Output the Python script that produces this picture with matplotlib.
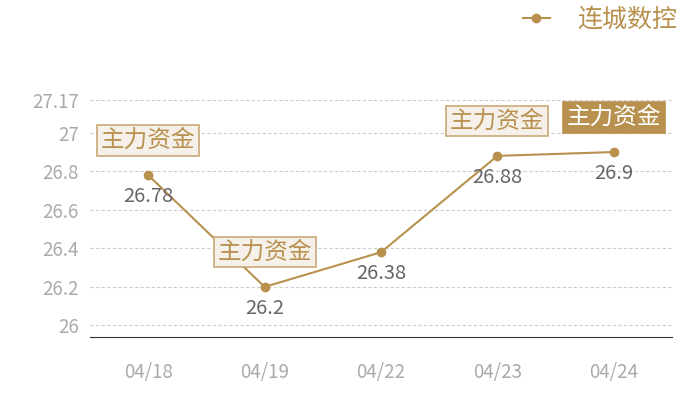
import matplotlib
matplotlib.use('Agg')
import matplotlib.pyplot as plt

plt.rcParams['font.family'] = ['Noto Sans CJK SC', 'DejaVu Sans']

dates = ['04/18', '04/19', '04/22', '04/23', '04/24']
prices = [26.78, 26.2, 26.38, 26.88, 26.9]
mark_idx = [0, 1, 3, 4]  # points carrying a 主力资金 tag
mark_text = '主力资金'
series_name = '连城数控'
yticks = [26, 26.2, 26.4, 26.6, 26.8, 27, 27.17]
ytick_labels = ['26', '26.2', '26.4', '26.6', '26.8', '27', '27.17']

gold = '#b8914f'

fig = plt.figure(figsize=(7, 4), dpi=100)
ax = fig.add_axes([0.1286, 0.1575, 0.8314, 0.5925])

x = list(range(len(dates)))
ax.plot(x, prices, color=gold, lw=1.5, marker='o', ms=6, label=series_name, zorder=3)

for i, v in zip(x, prices):
    ax.annotate(f'{v:g}', (i, v), xytext=(0, -15.5), textcoords='offset points',
                ha='center', va='center', fontsize=14.5, color='#666666')

for i in mark_idx:
    last = i == mark_idx[-1]
    ax.annotate(mark_text, (i, prices[i]), xytext=(0, 25), textcoords='offset points',
                ha='center', va='center', fontsize=17,
                color='white' if last else gold, zorder=5,
                bbox=dict(boxstyle='square,pad=0.16',
                          fc=gold if last else '#f5f0e9',
                          ec=gold if last else '#c9a877', lw=1.2))

ax.set_xlim(-0.5, len(dates) - 0.5)
ax.set_ylim(25.94, 27.17)
ax.set_xticks(x)
ax.set_xticklabels(dates)
ax.set_yticks(yticks)
ax.set_yticklabels(ytick_labels)
ax.tick_params(axis='both', length=0, labelsize=13.5, labelcolor='#aaaaaa')
ax.tick_params(axis='x', pad=18)
ax.tick_params(axis='y', pad=8)
ax.grid(axis='y', color='#cccccc', ls=(0, (3, 2)), lw=0.8)
ax.set_axisbelow(True)
for s in ['top', 'right', 'left']:
    ax.spines[s].set_visible(False)
ax.spines['bottom'].set_color('#333333')

leg = fig.legend(loc='upper right', bbox_to_anchor=(1.0, 1.04), frameon=False,
                 fontsize=18, handlelength=1.1, handletextpad=1.1)
for t in leg.get_texts():
    t.set_color(gold)

fig.savefig('out.png', dpi=100)
